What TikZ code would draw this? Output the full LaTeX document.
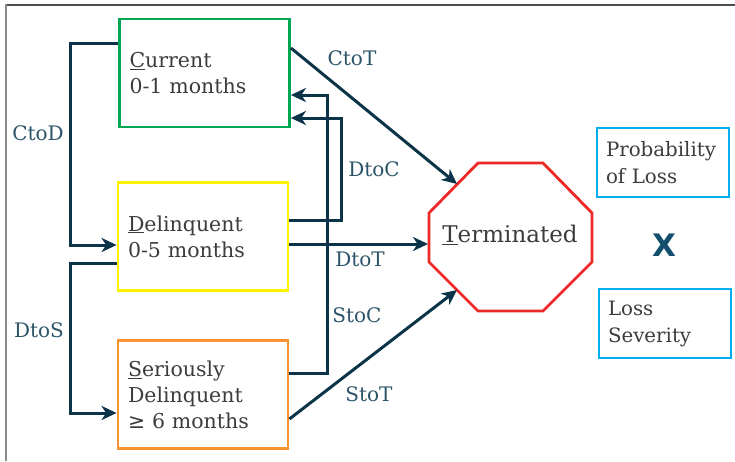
\documentclass[tikz,border=0pt]{standalone}
\usepackage{fontspec}
\setmainfont{DejaVu Serif}
\usetikzlibrary{arrows.meta}
\definecolor{conncol}{RGB}{12,52,72}
\definecolor{labcol}{RGB}{44,84,104}
\definecolor{txtcol}{RGB}{60,60,60}
\definecolor{boxgreen}{RGB}{0,166,81}
\definecolor{boxyellow}{RGB}{255,242,0}
\definecolor{boxorange}{RGB}{247,148,49}
\definecolor{boxred}{RGB}{237,41,39}
\definecolor{boxcyan}{RGB}{0,174,239}
\definecolor{xcol}{RGB}{20,80,110}
\begin{document}
\begin{tikzpicture}[x=1pt,y=-1pt,
  statebox/.style={draw, line width=2.8pt, rectangle, minimum width=170pt, minimum height=108pt,
    text width=150pt, align=left, inner sep=0pt, text=txtcol, font=\fontsize{20.5}{26}\selectfont},
  lossbox/.style={draw=boxcyan, line width=2.8pt, rectangle, minimum width=132pt, minimum height=69pt,
    text width=114pt, align=left, inner sep=0pt, text=txtcol, font=\fontsize{19.8}{27}\selectfont},
  conn/.style={draw=conncol, line width=3pt},
  arr/.style={conn, -{Stealth[length=15pt,width=14pt,inset=4.5pt]}},
  lab/.style={text=labcol, font=\fontsize{20}{24}\selectfont, inner sep=0pt}]
\useasboundingbox (0,0) rectangle (735,461);
\draw[line width=2pt, draw=black!70] (6,5) -- (735,5);
\draw[line width=2pt, draw=black!45] (6,461) -- (6,4);
% state boxes
\node[statebox, draw=boxgreen] (cur) at (204.5,73) {\underline{C}urrent\\0-1 months};
\node[statebox, draw=boxyellow] (del) at (203,236.5) {\underline{D}elinquent\\0-5 months};
\node[statebox, draw=boxorange] (ser) at (203,394.5) {\underline{S}eriously\\Delinquent\\{\fontspec{DejaVu Sans}≥} 6 months};
% terminated octagon
\draw[draw=boxred, line width=2.8pt, line join=miter]
  (478,163) -- (543,163) -- (592,213) -- (592,262) -- (543,311) -- (478,311) -- (429,262) -- (429,213) -- cycle;
\node[text=txtcol, font=\fontsize{23}{28}\selectfont, inner sep=0pt] (term) at (510,235) {\underline{T}erminated};
\coordinate (tC) at (457,184);
\coordinate (tD) at (428,244);
\coordinate (tS) at (457,290);
% loss boxes
\node[lossbox] (pol) at (663,162.5) {Probability\\of Loss};
\node[lossbox] (sev) at (665,323.5) {Loss\\Severity};
\node[text=xcol, font=\fontspec{DejaVu Sans}\bfseries\fontsize{31}{31}\selectfont, inner sep=0pt] (x) at (664,245) {X};
% connectors
\draw[arr] (cur.west |- 0,43) -- (70,43) |- (del.west |- 0,245);
\draw[arr] (del.west |- 0,263) -- (70,263) |- (ser.west |- 0,413);
\draw[arr] (ser.east |- 0,373) -- (327,373) |- (cur.east |- 0,95);
\draw[arr] (del.east |- 0,220) -- (341,220) |- (cur.east |- 0,118);
\draw[arr] (cur.east |- 0,48) -- (tC);
\draw[arr] (del.east |- 0,244) -- (tD);
\draw[arr] (ser.east |- 0,419) -- (tS);
% labels
\node[lab] (lCtoD) at (38,133) {CtoD};
\node[lab] (lDtoS) at (39,330) {DtoS};
\node[lab] (lCtoT) at (352,58) {CtoT};
\node[lab] (lDtoC) at (374,169) {DtoC};
\node[lab] (lDtoT) at (360,259) {DtoT};
\node[lab] (lStoC) at (357,315) {StoC};
\node[lab] (lStoT) at (369,394) {StoT};
\end{tikzpicture}
\end{document}
